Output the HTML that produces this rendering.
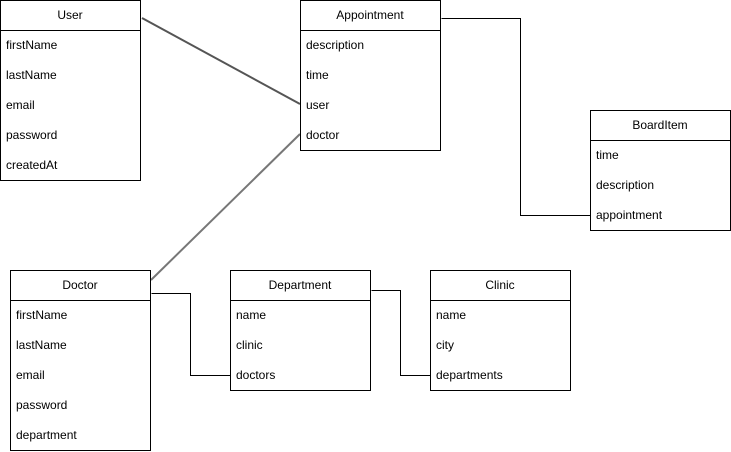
<!DOCTYPE html>
<html><head><style>
body{margin:0;background:#fff;}
svg{display:block;font-family:"Liberation Sans",Arial,sans-serif;font-size:12px;}
</style></head><body>
<svg width="731" height="452" xmlns="http://www.w3.org/2000/svg">
<g fill="none" stroke-width="2">
<line x1="142" y1="18" x2="300" y2="104" stroke="#555"/>
<line x1="151" y1="280" x2="300" y2="134" stroke="#777"/>
</g>
<g fill="none" stroke="#000" stroke-width="1">
<polyline points="441.5,18.5 520.5,18.5 520.5,215.5 590.5,215.5"/>
<polyline points="151.5,293.5 190.5,293.5 190.5,375.5 230.5,375.5"/>
<polyline points="371.5,290.5 400.5,290.5 400.5,375.5 430.5,375.5"/>
</g>
<g fill="#fff" stroke="#000" stroke-width="1">
<rect x="0.5" y="0.5" width="140" height="180"/><line x1="0" y1="30.5" x2="141" y2="30.5"/>
<rect x="300.5" y="0.5" width="140" height="150"/><line x1="300" y1="30.5" x2="441" y2="30.5"/>
<rect x="590.5" y="110.5" width="140" height="120"/><line x1="590" y1="140.5" x2="731" y2="140.5"/>
<rect x="10.5" y="270.5" width="140" height="180"/><line x1="10" y1="300.5" x2="151" y2="300.5"/>
<rect x="230.5" y="270.5" width="140" height="120"/><line x1="230" y1="300.5" x2="371" y2="300.5"/>
<rect x="430.5" y="270.5" width="140" height="120"/><line x1="430" y1="300.5" x2="571" y2="300.5"/>
</g>
<g fill="#000" text-anchor="middle">
<text x="70" y="19">User</text>
<text x="370" y="19">Appointment</text>
<text x="660" y="129">BoardItem</text>
<text x="80" y="289">Doctor</text>
<text x="300" y="289">Department</text>
<text x="500" y="289">Clinic</text>
</g>
<g fill="#000">
<text x="6" y="49">firstName</text><text x="6" y="79">lastName</text><text x="6" y="109">email</text><text x="6" y="139">password</text><text x="6" y="169">createdAt</text>
<text x="306" y="49">description</text><text x="306" y="79">time</text><text x="306" y="109">user</text><text x="306" y="139">doctor</text>
<text x="596" y="159">time</text><text x="596" y="189">description</text><text x="596" y="219">appointment</text>
<text x="16" y="319">firstName</text><text x="16" y="349">lastName</text><text x="16" y="379">email</text><text x="16" y="409">password</text><text x="16" y="439">department</text>
<text x="236" y="319">name</text><text x="236" y="349">clinic</text><text x="236" y="379">doctors</text>
<text x="436" y="319">name</text><text x="436" y="349">city</text><text x="436" y="379">departments</text>
</g>
</svg>
</body></html>
